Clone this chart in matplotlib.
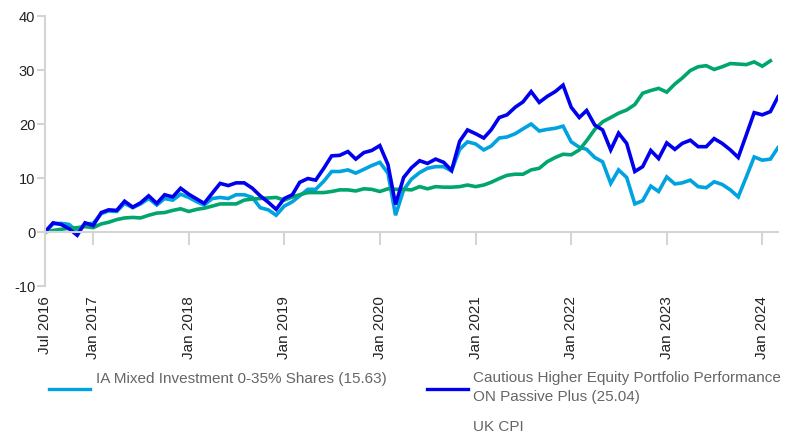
import matplotlib
matplotlib.use("Agg")
import matplotlib.pyplot as plt
from matplotlib.lines import Line2D
import pandas as pd

plt.rcParams['font.family'] = ['Liberation Sans', 'DejaVu Sans']
plt.rcParams['axes.unicode_minus'] = False

# monthly cumulative performance (%), Jul 2016 onwards
start_month = "2016-07-01"

ia_mixed = [0, 1.5, 1.6, 1.4, 0.1, 1.5, 1.6, 3.4, 3.9, 3.8,
            5.3, 4.5, 5.2, 6.2, 5.0, 6.2, 5.9, 7.0, 6.4, 5.6,
            5.0, 6.2, 6.4, 6.2, 6.9, 6.9, 6.4, 4.5, 4.1, 3.1,
            4.8, 5.6, 6.7, 7.9, 7.9, 9.4, 11.2, 11.2, 11.5, 10.9,
            11.6, 12.3, 12.9, 10.9, 3.1, 7.8, 9.8, 11.0, 11.8, 12.1,
            12.1, 11.3, 15.3, 16.7, 16.3, 15.2, 15.9, 17.4, 17.6, 18.2,
            19.1, 20.0, 18.7, 19.0, 19.2, 19.6, 16.7, 15.7, 15.3, 13.8,
            13.0, 9.0, 11.5, 10.1, 5.2, 5.8, 8.5, 7.5, 10.2, 8.9,
            9.1, 9.6, 8.4, 8.2, 9.3, 8.8, 7.8, 6.5, 10.2, 13.9,
            13.3, 13.5, 15.63]

passive_plus = [0, 1.7, 1.4, 0.6, -0.6, 1.7, 1.2, 3.6, 4.1, 4.0,
                5.7, 4.6, 5.4, 6.7, 5.3, 6.9, 6.5, 8.1, 7.0, 6.1,
                5.3, 7.2, 9.0, 8.6, 9.1, 9.1, 8.1, 6.7, 5.5, 4.2,
                6.2, 6.9, 9.2, 9.9, 9.6, 11.8, 14.1, 14.2, 14.9, 13.5,
                14.7, 15.1, 16.0, 12.5, 5.1, 10.1, 11.9, 13.2, 12.7, 13.5,
                12.9, 11.4, 16.8, 18.9, 18.2, 17.4, 18.9, 21.2, 21.7, 23.1,
                24.1, 26.0, 24.0, 25.1, 26.0, 27.2, 23.1, 21.2, 22.5, 19.8,
                18.9, 15.2, 18.3, 16.4, 11.2, 12.1, 15.1, 13.6, 16.5, 15.3,
                16.4, 17.0, 15.8, 15.8, 17.3, 16.4, 15.2, 13.8, 18.0, 22.1,
                21.7, 22.3, 25.04]

uk_cpi = [0, 0.3, 0.5, 0.7, 0.8, 1.0, 0.8, 1.5, 1.8, 2.3,
          2.6, 2.7, 2.6, 3.1, 3.5, 3.6, 4.0, 4.3, 3.8, 4.2,
          4.4, 4.8, 5.2, 5.2, 5.2, 5.9, 6.1, 6.2, 6.3, 6.4,
          5.9, 6.5, 6.9, 7.3, 7.3, 7.3, 7.5, 7.8, 7.8, 7.6,
          8.0, 7.9, 7.5, 8.0, 7.9, 7.9, 7.8, 8.4, 8.0, 8.4,
          8.3, 8.3, 8.4, 8.7, 8.4, 8.7, 9.2, 9.9, 10.5, 10.7,
          10.7, 11.5, 11.8, 13.0, 13.8, 14.4, 14.3, 15.2, 16.9, 19.0,
          20.4, 21.2, 22.0, 22.6, 23.6, 25.7, 26.2, 26.6, 25.9, 27.4,
          28.5, 29.9, 30.6, 30.8, 30.1, 30.6, 31.2, 31.1, 31.0, 31.5,
          30.7, 31.7]

legend_labels = ["IA Mixed Investment 0-35% Shares (15.63)",
                 "Cautious Higher Equity Portfolio Performance\nON Passive Plus (25.04)",
                 "UK CPI"]

tick_dates = ["2016-07-01"] + ["%d-01-01" % y for y in range(2017, 2025)]
tick_labels = ["Jul 2016"] + ["Jan %d" % y for y in range(2017, 2025)]

c_ia = "#00a3e0"
c_pp = "#0000ee"
c_cpi = "#00a66e"
c_axis = "#d4d4d4"

months = pd.date_range(start_month, periods=len(passive_plus), freq="MS")

fig = plt.figure(figsize=(7.98, 4.36), dpi=100)
ax = fig.add_axes([45 / 798, 150 / 436, 733 / 798, 270 / 436])

ax.plot(months[:len(ia_mixed)], ia_mixed, color=c_ia, lw=2.6, solid_joinstyle="miter")
ax.plot(months[:len(uk_cpi)], uk_cpi, color=c_cpi, lw=2.6, solid_joinstyle="miter")
ax.plot(months, passive_plus, color=c_pp, lw=2.6, solid_joinstyle="miter")

ax.set_ylim(-10, 40)
ax.set_yticks([-10, 0, 10, 20, 30, 40])
ax.set_xlim(months[0], months[-1])

# x axis sits on the zero line, labels pushed below the plot
ax.spines["bottom"].set_position(("data", 0))
for s in ["top", "right"]:
    ax.spines[s].set_visible(False)
for s in ["bottom", "left"]:
    ax.spines[s].set_color(c_axis)
    ax.spines[s].set_linewidth(1.5)

ax.set_xticks(pd.to_datetime(tick_dates))
ax.set_xticklabels(tick_labels, rotation=90, fontsize=11, color="#222222")
ax.tick_params(axis="x", length=9, width=1.5, color=c_axis, pad=37)
ax.tick_params(axis="y", length=6, width=1.5, color=c_axis, pad=1,
               labelsize=10.5, labelcolor="#222222")

# hand-made legend underneath
fig.add_artist(Line2D([49 / 798, 90 / 798], [1 - 389 / 436] * 2, color=c_ia, lw=2.4))
fig.add_artist(Line2D([427 / 798, 468 / 798], [1 - 389 / 436] * 2, color=c_pp, lw=2.4))
fig.text(96 / 798, 1 - 379 / 436, legend_labels[0], fontsize=11, color="#666666", va="center")
fig.text(473 / 798, 1 - 371 / 436, legend_labels[1], fontsize=11, color="#666666",
         va="top", linespacing=1.5)
fig.text(473 / 798, 1 - 427 / 436, legend_labels[2], fontsize=11, color="#666666", va="center")

fig.savefig("out.png", dpi=100)
